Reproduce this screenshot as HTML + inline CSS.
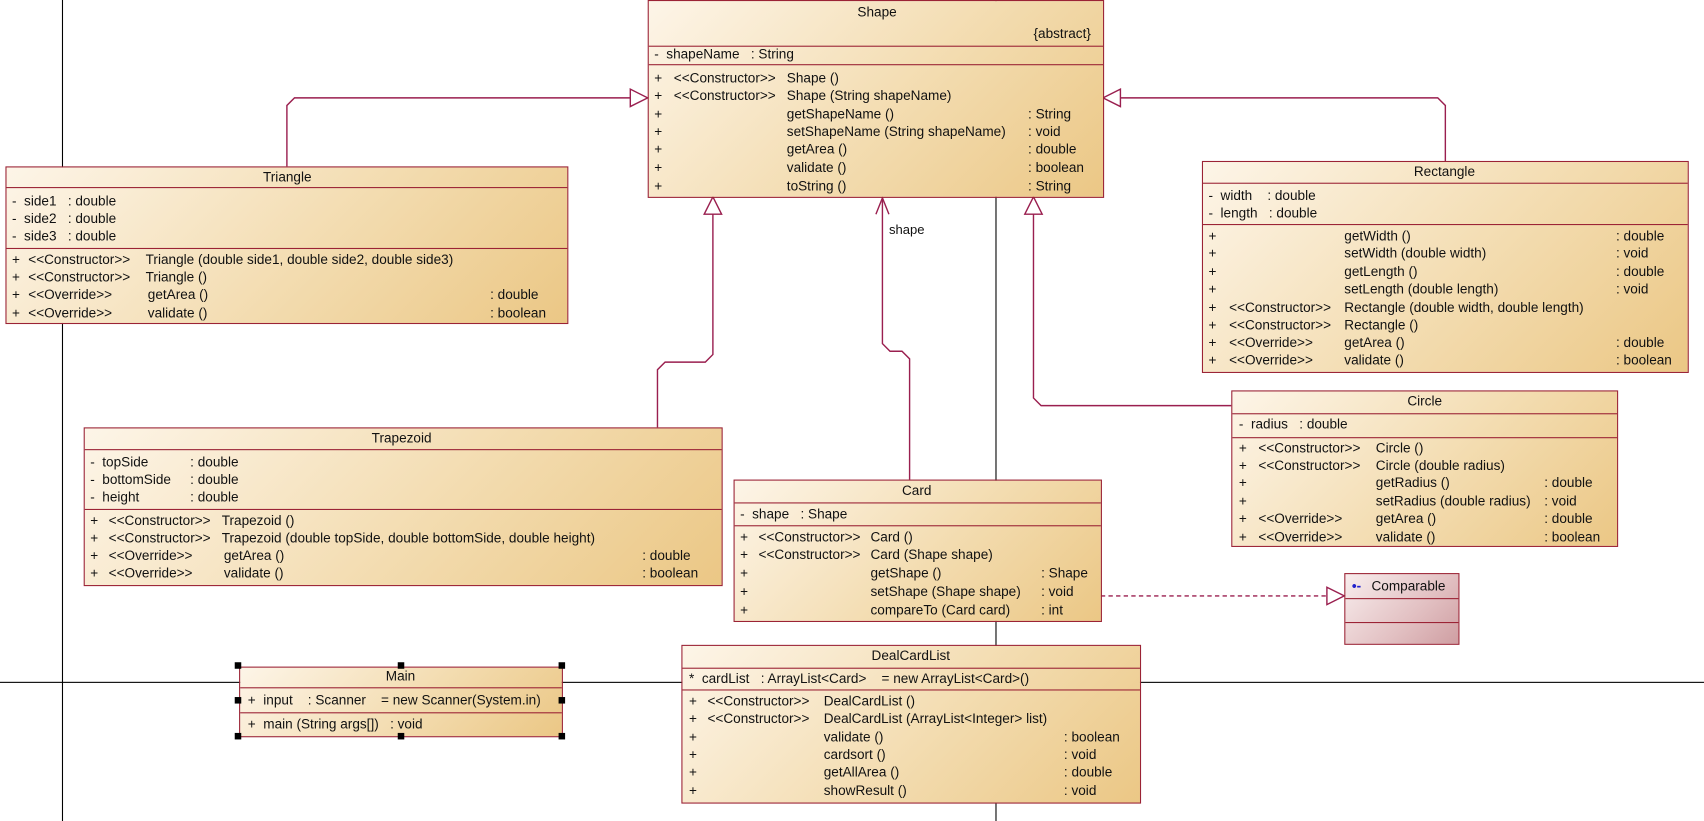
<!DOCTYPE html>
<html><head><meta charset="utf-8"><style>
html,body{margin:0;padding:0;background:#fff;overflow:hidden}
#w{position:relative;width:1568px;height:755px;transform:scale(1.08673,1.08742);transform-origin:0 0;font-family:"Liberation Sans",sans-serif;font-size:12.5px;color:#111}
.b{position:absolute;border:1px solid #9b2335;background:linear-gradient(135deg,#fdf5e8 0%,#f3dcb0 55%,#ebc785 100%);box-sizing:border-box}
.b span{position:absolute;white-space:pre;line-height:14px}
.t{font-size:12.5px}
.d{position:absolute;left:0;right:0;height:0;border-top:1px solid #9b2335}
.ln{position:absolute;background:#000}
.h{position:absolute;width:6px;height:6px;background:#000}
</style></head><body><div id="w">
<div class="ln" style="left:57px;top:0;width:1px;height:755px"></div>
<div class="ln" style="left:0;top:627px;width:1568px;height:1px"></div>
<div class="ln" style="left:916px;top:0;width:1px;height:755px"></div>

<svg style="position:absolute;left:0;top:0" width="1568" height="755">
<g fill="none" stroke="#9a1f4f" stroke-width="1.3">
<path d="M264 153 V97 L271 90 H580"/><polygon points="596,90 580,82 580,98" fill="#fff"/>
<path d="M1330 148 V97 L1323 90 H1031"/><polygon points="1015,90 1031,82 1031,98" fill="#fff"/>
<path d="M605 393 V340 L612 333 H649 L656 326 V197"/><polygon points="656,181 648,197 664,197" fill="#fff"/>
<path d="M837 441 V330 L830 323 H819 L812 316 V182"/><path d="M806 197 L812 182 L818 197"/>
<path d="M1133 373 H958 L951 366 V197"/><polygon points="951,181 943,197 959,197" fill="#fff"/>
<path d="M1013 548 H1221" stroke-dasharray="4,3"/><polygon points="1237,548 1221,540 1221,556" fill="#fff"/>
</g></svg>
<div style="position:absolute;left:818px;top:204px;font-size:12px">shape</div>

<!-- Shape -->
<div class="b" style="left:596px;top:0;width:420px;height:182px">
<span class="t" style="left:192px;top:3px">Shape</span><span style="left:354px;top:23px">{abstract}</span>
<div class="d" style="top:41px"></div>
<span style="left:5px;top:42px">-  shapeName   : String</span>
<div class="d" style="top:58px"></div>
<span style="left:5px;top:64px">+</span><span style="left:23px;top:64px">&lt;&lt;Constructor&gt;&gt;</span><span style="left:127px;top:64px">Shape ()</span>
<span style="left:5px;top:80px">+</span><span style="left:23px;top:80px">&lt;&lt;Constructor&gt;&gt;</span><span style="left:127px;top:80px">Shape (String shapeName)</span>
<span style="left:5px;top:97px">+</span><span style="left:127px;top:97px">getShapeName ()</span><span style="left:349px;top:97px">: String</span>
<span style="left:5px;top:113px">+</span><span style="left:127px;top:113px">setShapeName (String shapeName)</span><span style="left:349px;top:113px">: void</span>
<span style="left:5px;top:129px">+</span><span style="left:127px;top:129px">getArea ()</span><span style="left:349px;top:129px">: double</span>
<span style="left:5px;top:146px">+</span><span style="left:127px;top:146px">validate ()</span><span style="left:349px;top:146px">: boolean</span>
<span style="left:5px;top:163px">+</span><span style="left:127px;top:163px">toString ()</span><span style="left:349px;top:163px">: String</span>
</div>

<!-- Triangle -->
<div class="b" style="left:5px;top:153px;width:518px;height:145px">
<span class="t" style="left:236px;top:2px">Triangle</span>
<div class="d" style="top:18px"></div>
<span style="left:5px;top:24px">-  side1   : double</span>
<span style="left:5px;top:40px">-  side2   : double</span>
<span style="left:5px;top:56px">-  side3   : double</span>
<div class="d" style="top:74px"></div>
<span style="left:5px;top:78px">+</span><span style="left:20px;top:78px">&lt;&lt;Constructor&gt;&gt;</span><span style="left:128px;top:78px">Triangle (double side1, double side2, double side3)</span>
<span style="left:5px;top:94px">+</span><span style="left:20px;top:94px">&lt;&lt;Constructor&gt;&gt;</span><span style="left:128px;top:94px">Triangle ()</span>
<span style="left:5px;top:110px">+</span><span style="left:20px;top:110px">&lt;&lt;Override&gt;&gt;</span><span style="left:130px;top:110px">getArea ()</span><span style="left:445px;top:110px">: double</span>
<span style="left:5px;top:127px">+</span><span style="left:20px;top:127px">&lt;&lt;Override&gt;&gt;</span><span style="left:130px;top:127px">validate ()</span><span style="left:445px;top:127px">: boolean</span>
</div>

<!-- Rectangle -->
<div class="b" style="left:1106px;top:148px;width:448px;height:195px">
<span class="t" style="left:194px;top:2px">Rectangle</span>
<div class="d" style="top:19px"></div>
<span style="left:5px;top:24px">-  width    : double</span>
<span style="left:5px;top:40px">-  length   : double</span>
<div class="d" style="top:57px"></div>
<span style="left:5px;top:61px">+</span><span style="left:130px;top:61px">getWidth ()</span><span style="left:380px;top:61px">: double</span>
<span style="left:5px;top:77px">+</span><span style="left:130px;top:77px">setWidth (double width)</span><span style="left:380px;top:77px">: void</span>
<span style="left:5px;top:94px">+</span><span style="left:130px;top:94px">getLength ()</span><span style="left:380px;top:94px">: double</span>
<span style="left:5px;top:110px">+</span><span style="left:130px;top:110px">setLength (double length)</span><span style="left:380px;top:110px">: void</span>
<span style="left:5px;top:127px">+</span><span style="left:24px;top:127px">&lt;&lt;Constructor&gt;&gt;</span><span style="left:130px;top:127px">Rectangle (double width, double length)</span>
<span style="left:5px;top:143px">+</span><span style="left:24px;top:143px">&lt;&lt;Constructor&gt;&gt;</span><span style="left:130px;top:143px">Rectangle ()</span>
<span style="left:5px;top:159px">+</span><span style="left:24px;top:159px">&lt;&lt;Override&gt;&gt;</span><span style="left:130px;top:159px">getArea ()</span><span style="left:380px;top:159px">: double</span>
<span style="left:5px;top:175px">+</span><span style="left:24px;top:175px">&lt;&lt;Override&gt;&gt;</span><span style="left:130px;top:175px">validate ()</span><span style="left:380px;top:175px">: boolean</span>
</div>

<!-- Trapezoid -->
<div class="b" style="left:77px;top:393px;width:588px;height:146px">
<span class="t" style="left:264px;top:2px">Trapezoid</span>
<div class="d" style="top:19px"></div>
<span style="left:5px;top:24px">-  topSide</span><span style="left:97px;top:24px">: double</span>
<span style="left:5px;top:40px">-  bottomSide</span><span style="left:97px;top:40px">: double</span>
<span style="left:5px;top:56px">-  height</span><span style="left:97px;top:56px">: double</span>
<div class="d" style="top:74px"></div>
<span style="left:5px;top:78px">+</span><span style="left:22px;top:78px">&lt;&lt;Constructor&gt;&gt;</span><span style="left:126px;top:78px">Trapezoid ()</span>
<span style="left:5px;top:94px">+</span><span style="left:22px;top:94px">&lt;&lt;Constructor&gt;&gt;</span><span style="left:126px;top:94px">Trapezoid (double topSide, double bottomSide, double height)</span>
<span style="left:5px;top:110px">+</span><span style="left:22px;top:110px">&lt;&lt;Override&gt;&gt;</span><span style="left:128px;top:110px">getArea ()</span><span style="left:513px;top:110px">: double</span>
<span style="left:5px;top:126px">+</span><span style="left:22px;top:126px">&lt;&lt;Override&gt;&gt;</span><span style="left:128px;top:126px">validate ()</span><span style="left:513px;top:126px">: boolean</span>
</div>

<!-- Card -->
<div class="b" style="left:675px;top:441px;width:339px;height:131px">
<span class="t" style="left:154px;top:2px">Card</span>
<div class="d" style="top:20px"></div>
<span style="left:5px;top:24px">-  shape   : Shape</span>
<div class="d" style="top:41px"></div>
<span style="left:5px;top:45px">+</span><span style="left:22px;top:45px">&lt;&lt;Constructor&gt;&gt;</span><span style="left:125px;top:45px">Card ()</span>
<span style="left:5px;top:61px">+</span><span style="left:22px;top:61px">&lt;&lt;Constructor&gt;&gt;</span><span style="left:125px;top:61px">Card (Shape shape)</span>
<span style="left:5px;top:78px">+</span><span style="left:125px;top:78px">getShape ()</span><span style="left:282px;top:78px">: Shape</span>
<span style="left:5px;top:95px">+</span><span style="left:125px;top:95px">setShape (Shape shape)</span><span style="left:282px;top:95px">: void</span>
<span style="left:5px;top:112px">+</span><span style="left:125px;top:112px">compareTo (Card card)</span><span style="left:282px;top:112px">: int</span>
</div>

<!-- Circle -->
<div class="b" style="left:1133px;top:359px;width:356px;height:144px">
<span class="t" style="left:161px;top:2px">Circle</span>
<div class="d" style="top:20px"></div>
<span style="left:6px;top:23px">-  radius   : double</span>
<div class="d" style="top:42px"></div>
<span style="left:6px;top:45px">+</span><span style="left:24px;top:45px">&lt;&lt;Constructor&gt;&gt;</span><span style="left:132px;top:45px">Circle ()</span>
<span style="left:6px;top:61px">+</span><span style="left:24px;top:61px">&lt;&lt;Constructor&gt;&gt;</span><span style="left:132px;top:61px">Circle (double radius)</span>
<span style="left:6px;top:77px">+</span><span style="left:132px;top:77px">getRadius ()</span><span style="left:287px;top:77px">: double</span>
<span style="left:6px;top:94px">+</span><span style="left:132px;top:94px">setRadius (double radius)</span><span style="left:287px;top:94px">: void</span>
<span style="left:6px;top:110px">+</span><span style="left:24px;top:110px">&lt;&lt;Override&gt;&gt;</span><span style="left:132px;top:110px">getArea ()</span><span style="left:287px;top:110px">: double</span>
<span style="left:6px;top:127px">+</span><span style="left:24px;top:127px">&lt;&lt;Override&gt;&gt;</span><span style="left:132px;top:127px">validate ()</span><span style="left:287px;top:127px">: boolean</span>
</div>

<!-- Comparable -->
<div class="b" style="left:1237px;top:527px;width:106px;height:66px;background:linear-gradient(135deg,#f8eded 0%,#e2c0c2 60%,#cf9ea2 100%)">
<span style="left:6px;top:4px;color:#22c;font-weight:bold">&#8226;-</span><span style="left:24px;top:4px">Comparable</span>
<div class="d" style="top:22px"></div><div class="d" style="top:44px"></div>
</div>

<!-- DealCardList -->
<div class="b" style="left:627px;top:593px;width:423px;height:146px">
<span class="t" style="left:174px;top:2px">DealCardList</span>
<div class="d" style="top:20px"></div>
<span style="left:6px;top:23px">*  cardList   : ArrayList&lt;Card&gt;    = new ArrayList&lt;Card&gt;()</span>
<div class="d" style="top:40px"></div>
<span style="left:6px;top:44px">+</span><span style="left:23px;top:44px">&lt;&lt;Constructor&gt;&gt;</span><span style="left:130px;top:44px">DealCardList ()</span>
<span style="left:6px;top:60px">+</span><span style="left:23px;top:60px">&lt;&lt;Constructor&gt;&gt;</span><span style="left:130px;top:60px">DealCardList (ArrayList&lt;Integer&gt; list)</span>
<span style="left:6px;top:77px">+</span><span style="left:130px;top:77px">validate ()</span><span style="left:351px;top:77px">: boolean</span>
<span style="left:6px;top:93px">+</span><span style="left:130px;top:93px">cardsort ()</span><span style="left:351px;top:93px">: void</span>
<span style="left:6px;top:109px">+</span><span style="left:130px;top:109px">getAllArea ()</span><span style="left:351px;top:109px">: double</span>
<span style="left:6px;top:126px">+</span><span style="left:130px;top:126px">showResult ()</span><span style="left:351px;top:126px">: void</span>
</div>

<!-- Main -->
<div class="b" style="left:220px;top:613px;width:298px;height:65px">
<span class="t" style="left:134px;top:1px">Main</span>
<div class="d" style="top:18px"></div>
<span style="left:7px;top:23px">+  input    : Scanner    = new Scanner(System.in)</span>
<div class="d" style="top:41px"></div>
<span style="left:7px;top:45px">+  main (String args[])   : void</span>
</div>
<div class="h" style="left:216px;top:609px"></div><div class="h" style="left:366px;top:609px"></div><div class="h" style="left:514px;top:609px"></div>
<div class="h" style="left:216px;top:641px"></div><div class="h" style="left:514px;top:641px"></div>
<div class="h" style="left:216px;top:674px"></div><div class="h" style="left:366px;top:674px"></div><div class="h" style="left:514px;top:674px"></div>
</div></body></html>
